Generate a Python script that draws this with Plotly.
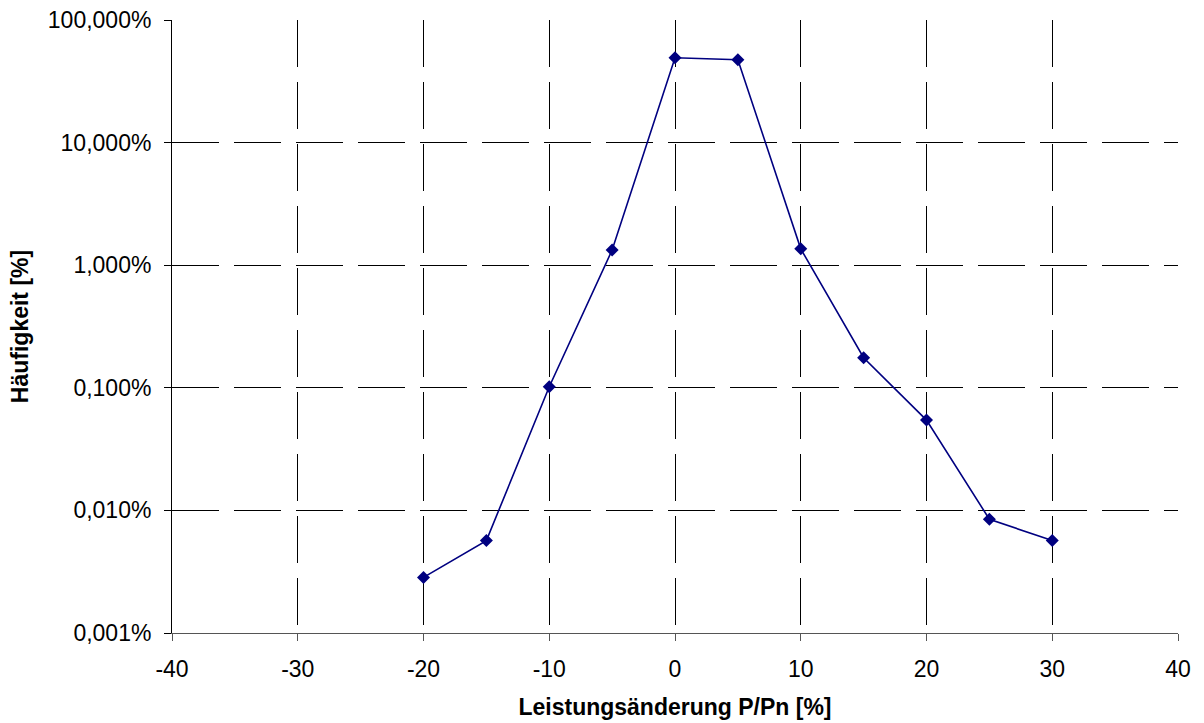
import plotly.graph_objects as go

# Data
x_change = [-20, -15, -10, -5, 0, 5, 10, 15, 20, 25, 30]
frequency_pct = [0.00284, 0.00567, 0.102, 1.33, 49.2, 47.4, 1.36, 0.176, 0.0545, 0.00847, 0.00567]

y_tick_vals = [0.001, 0.01, 0.1, 1, 10, 100]
y_tick_text = ["0,001%", "0,010%", "0,100%", "1,000%", "10,000%", "100,000%"]
x_tick_vals = [-40, -30, -20, -10, 0, 10, 20, 30, 40]
x_tick_text = ["-40", "-30", "-20", "-10", "0", "10", "20", "30", "40"]

fig = go.Figure()
fig.add_trace(go.Scatter(
    x=x_change, y=frequency_pct, mode="lines+markers",
    line=dict(color="#000080", width=1.6),
    marker=dict(symbol="diamond", size=10, color="#000080"),
    showlegend=False,
))

font_family = "Liberation Sans, Arial, sans-serif"
fig.update_layout(
    width=1204, height=723,
    margin=dict(l=172, r=26, t=20, b=90),
    paper_bgcolor="white", plot_bgcolor="white",
    font=dict(family=font_family, size=23, color="black"),
    xaxis=dict(
        range=[-40, 40], tickvals=x_tick_vals, ticktext=x_tick_text,
        showgrid=True, gridcolor="black", gridwidth=1, griddash="47px,15px",
        showline=True, linecolor="#555555", linewidth=1,
        ticks="outside", ticklen=7, tickcolor="#555555",
        ticklabelstandoff=8,
        zeroline=False, automargin=False,
        title=dict(text="<b>Leistungsänderung P/Pn [%]</b>", font=dict(size=23), standoff=18),
        tickfont=dict(size=23),
    ),
    yaxis=dict(
        type="log", range=[-3, 2], tickvals=y_tick_vals, ticktext=y_tick_text,
        showgrid=True, gridcolor="black", gridwidth=1, griddash="47px,15px",
        showline=True, linecolor="black", linewidth=1,
        ticks="outside", ticklen=7, tickcolor="black",
        ticklabelstandoff=8,
        zeroline=False, automargin=False,
        title=dict(text="<b>Häufigkeit [%]</b>", font=dict(size=23), standoff=12),
        tickfont=dict(size=23),
    ),
)

fig.write_html("out.html", config={"displayModeBar": False},
               post_script="document.body.style.margin='0px';")
